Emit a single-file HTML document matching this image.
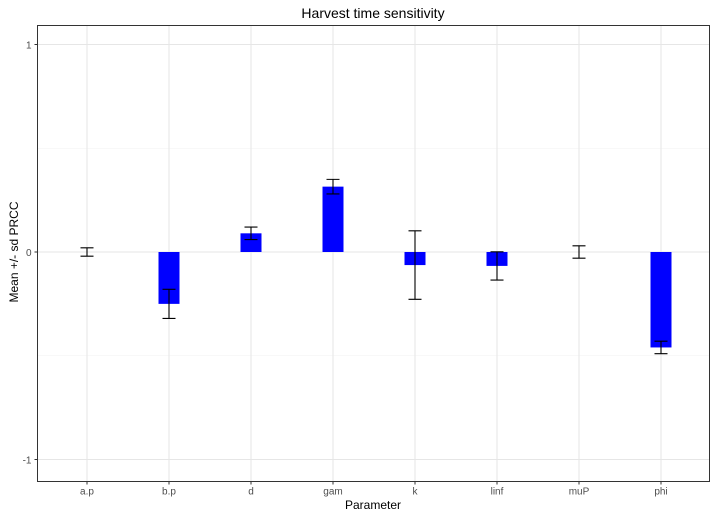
<!DOCTYPE html>
<html><head><meta charset="utf-8"><style>
body{margin:0;background:#fff;font-family:"Liberation Sans",sans-serif;}
svg text{font-family:"Liberation Sans",sans-serif;}
</style></head><body>
<svg id="chart" width="717" height="517" xmlns="http://www.w3.org/2000/svg">
<rect width="717" height="517" fill="#fff"/>
<text x="373" y="18" text-anchor="middle" font-size="14" fill="#000">Harvest time sensitivity</text>
<g id="grid"></g><g id="marks"></g><g id="axes"></g>
<rect x="37.5" y="25.5" width="672" height="456" fill="none" stroke="#333" stroke-width="1"/>
<text x="373" y="509" text-anchor="middle" font-size="12" fill="#000">Parameter</text>
<text transform="translate(18,252) rotate(-90)" text-anchor="middle" font-size="12" fill="#000">Mean +/- sd PRCC</text>
</svg>
<script>
const categories=["a.p","b.p","d","gam","k","linf","muP","phi"];
const means=[0,-0.25,0.09,0.315,-0.063,-0.067,0,-0.46];
const sds=[0.02,0.07,0.03,0.035,0.165,0.068,0.03,0.03];
const yTicks=[-1,0,1];
const yMinor=[-0.5,0.5];
const NS="http://www.w3.org/2000/svg";
const x0=37.5,x1=709.5,yT=25.5,yB=481.5;
function xs(i){return 87+i*82;}
function ys(v){return 252-v*207.5;}
function mk(tag,attrs,parent){const e=document.createElementNS(NS,tag);for(const k in attrs)e.setAttribute(k,attrs[k]);document.getElementById(parent).appendChild(e);return e;}
yMinor.forEach(v=>{const l=mk('line',{x1:x0,x2:x1,y1:ys(v),y2:ys(v),stroke:'#f0f0f0','stroke-width':0.6},'grid');

});
yTicks.forEach(v=>{const l=mk('line',{x1:x0,x2:x1,y1:ys(v),y2:ys(v),stroke:'#e6e6e6','stroke-width':1},'grid');


const t=mk('line',{x1:x0-3,x2:x0,y1:ys(v),y2:ys(v),stroke:'#333'},'axes');


const tx=mk('text',{x:x0-6,y:ys(v)+4,'text-anchor':'end','font-size':10,fill:'#4d4d4d'},'axes');tx.textContent=v;

});
categories.forEach((c,i)=>{const x=xs(i);
const g=mk('line',{x1:x,x2:x,y1:yT,y2:yB,stroke:'#e6e6e6'},'grid');


const t=mk('line',{x1:x,x2:x,y1:yB,y2:yB+3,stroke:'#333'},'axes');


const tx=mk('text',{x:x,y:yB+13,'text-anchor':'middle','font-size':10,fill:'#4d4d4d'},'axes');tx.textContent=c;


const m=means[i],s=sds[i];
const b=mk('rect',{x:x-10.5,y:Math.min(ys(m),ys(0)),width:21,height:Math.abs(ys(m)-ys(0)),fill:'#0000ff'},'marks');


const hi=ys(m+s),lo=ys(m-s),w=6.5;
const e=mk('path',{d:`M${x-w},${hi}H${x+w}M${x},${hi}V${lo}M${x-w},${lo}H${x+w}`,stroke:'#000','stroke-width':1.1,fill:'none'},'marks');

});
</script>
</body></html>
